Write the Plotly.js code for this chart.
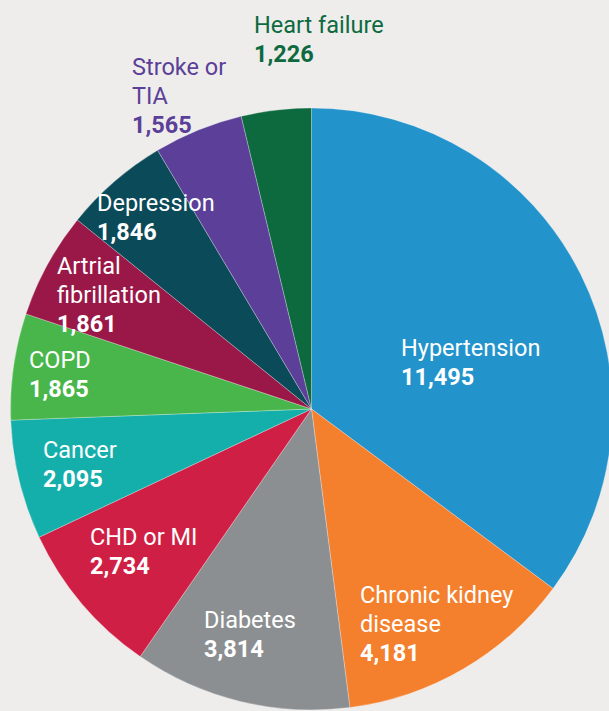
<!DOCTYPE html>
<html>
<head>
<meta charset="utf-8">
<script src="https://cdn.plot.ly/plotly-3.0.1.min.js"></script>
<style>
html,body{margin:0;padding:0;overflow:hidden;background:#EEEDEB;}
#chart{width:620px;height:711px;}
</style>
</head>
<body>
<div id="chart"></div>
<script>
// ---- data ----
const categories = ["Hypertension","Chronic kidney disease","Diabetes","CHD or MI","Cancer","COPD","Artrial fibrillation","Depression","Stroke or TIA","Heart failure"];
const displayLabels = ["Hypertension","Chronic kidney<br>disease","Diabetes","CHD or MI","Cancer","COPD","Artrial<br>fibrillation","Depression","Stroke or<br>TIA","Heart failure"];
const values = [11495, 4181, 3814, 2734, 2095, 1865, 1861, 1846, 1565, 1226];
const colors = ["#2393CB","#F47F2C","#8C8F92","#D01F45","#15AFAB","#49B64B","#9A1847","#0B4A58","#5B3F98","#0D6A3F"];
const labelColors = ["#FFFFFF","#FFFFFF","#FFFFFF","#FFFFFF","#FFFFFF","#FFFFFF","#FFFFFF","#FFFFFF","#5B3F98","#0D6A3F"];

// ---- layout (label anchor positions in pixels: left x, top of first text line) ----
const W = 620, H = 711;
const labelPos = [[400,338],[359,585],[203,610],[89,527],[42,440],[28,350],[56,256],[96,193],[131,57],[253,15]];
const lineStep = 29;
const cx = 311.5, cy = 409, R = 301;

const fmt = v => v.toLocaleString('en-US');

const annotations = [];
categories.forEach((c, i) => {
  const lines = displayLabels[i].split('<br>').map(t => ({t: t, bold: false}));
  lines.push({t: fmt(values[i]), bold: true});
  lines.forEach((ln, k) => {
    annotations.push({
      xref: 'paper', yref: 'paper',
      x: labelPos[i][0] / W,
      y: 1 - (labelPos[i][1] - 5 + k * lineStep) / H,
      xanchor: 'left', yanchor: 'top', align: 'left',
      showarrow: false, borderpad: 0,
      text: ln.bold ? '<b>' + ln.t + '</b>' : ln.t,
      font: {family: 'Roboto', size: 23.5, color: labelColors[i], weight: ln.bold ? 700 : 400}
    });
  });
});

const trace = {
  type: 'pie',
  labels: categories,
  values: values,
  sort: false,
  direction: 'clockwise',
  rotation: 0,
  textinfo: 'none',
  hoverinfo: 'label+value',
  marker: {colors: colors, line: {color: 'rgba(255,255,255,0.35)', width: 0.8}},
  domain: {x: [(cx - R) / W, (cx + R) / W], y: [1 - (cy + R) / H, 1 - (cy - R) / H]},
  showlegend: false
};

Plotly.newPlot('chart', [trace], {
  width: W, height: H,
  margin: {l: 0, r: 0, t: 0, b: 0},
  paper_bgcolor: '#EEEDEB',
  plot_bgcolor: '#EEEDEB',
  showlegend: false,
  annotations: annotations,
  font: {family: 'Roboto'}
}, {displayModeBar: false, staticPlot: true});
</script>
</body>
</html>
